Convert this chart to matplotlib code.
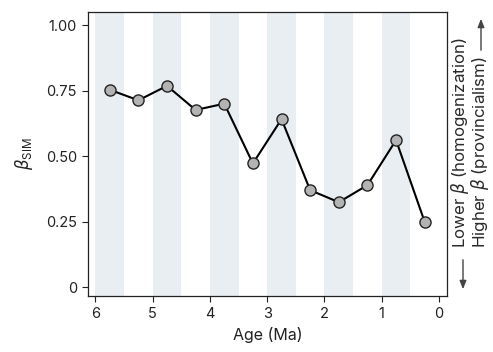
import matplotlib
matplotlib.use("Agg")
import matplotlib.pyplot as plt

plt.rcParams["font.family"] = ["Inter", "DejaVu Sans"]
plt.rcParams["mathtext.fontset"] = "custom"
plt.rcParams["mathtext.it"] = "DejaVu Sans:italic"
plt.rcParams["mathtext.rm"] = "Inter"

# data
age_ma = [5.75, 5.25, 4.75, 4.25, 3.75, 3.25, 2.75, 2.25, 1.75, 1.25, 0.75, 0.25]
beta_sim = [0.753, 0.713, 0.768, 0.676, 0.700, 0.472, 0.641, 0.370, 0.324, 0.389, 0.561, 0.249]
band_starts = [6, 5, 4, 3, 2, 1]
x_ticks = [6, 5, 4, 3, 2, 1, 0]
y_ticks = [0, 0.25, 0.50, 0.75, 1.00]
y_tick_labels = ["0", "0.25", "0.50", "0.75", "1.00"]

BAND = "#e9eef3"
INK = "#222222"

fig = plt.figure(figsize=(4.93, 3.52), dpi=100)
ax = fig.add_axes([0.1785, 0.159, 0.7282, 0.807])

for b in band_starts:
    ax.axvspan(b, b - 0.5, color=BAND, lw=0, zorder=0)

ax.plot(age_ma, beta_sim, "-o", color="black", lw=1.5,
        markersize=8, markerfacecolor="#b3b3b3", markeredgecolor=INK,
        markeredgewidth=1.0, zorder=3)

ax.set_xlim(6.13, -0.14)
ax.set_ylim(-0.034, 1.05)
ax.set_xticks(x_ticks)
ax.set_yticks(y_ticks)
ax.set_yticklabels(y_tick_labels)
ax.tick_params(direction="out", length=4, width=0.8, labelsize=10.5, colors=INK, pad=4)
for s in ax.spines.values():
    s.set_linewidth(0.9)
    s.set_color(INK)

ax.set_xlabel("Age (Ma)", fontsize=11.5, labelpad=4, color=INK)
ax.set_ylabel(r"$\beta_{\mathrm{SIM}}$", fontsize=12, labelpad=8, color=INK)

# right-hand annotation with arrows (positions in figure pixels)
W, H = 493, 352
fig.text(470 / W, 1 - 143 / H,
         "Lower $\\beta$ (homogenization)\nHigher $\\beta$ (provincialism)",
         rotation=90, ha="center", va="center", multialignment="left",
         linespacing=0.85, fontsize=12.2, color="#2a2a2a")
arrow = dict(arrowstyle="-|>,head_length=0.5,head_width=0.2", color="#444444", lw=1.0)
ax.annotate("", xy=(463 / W, 1 - 292 / H), xytext=(463 / W, 1 - 257 / H),
            xycoords="figure fraction", textcoords="figure fraction", arrowprops=arrow)
ax.annotate("", xy=(481 / W, 1 - 16 / H), xytext=(481 / W, 1 - 53 / H),
            xycoords="figure fraction", textcoords="figure fraction", arrowprops=arrow)

fig.savefig("out.png", dpi=100)
